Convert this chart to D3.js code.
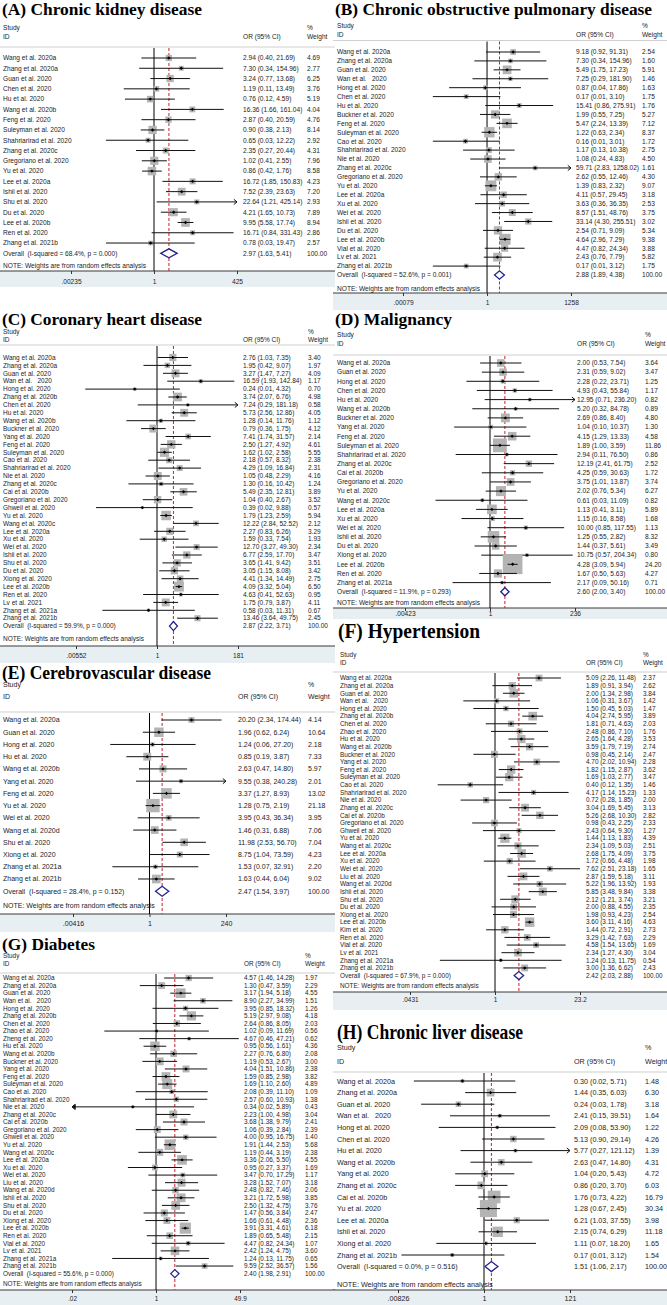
<!DOCTYPE html>
<html><head><meta charset="utf-8">
<script src="https://cdn.jsdelivr.net/npm/d3@7"></script>
<style>body{margin:0;background:#fff}svg{display:block}text{white-space:pre}</style>
</head><body><svg id="c" width="667" height="1305"></svg>
<script>
// ---------- DATA: [study, OR, lower, upper, weight] ----------
const ckdRows = [
 ["Wang et al. 2020a",2.94,0.40,21.69,4.69],["Zhang et al. 2020a",7.30,0.34,154.96,2.77],
 ["Guan et al. 2020",3.24,0.77,13.68,6.25],["Chen et al. 2020",1.19,0.11,13.49,3.76],
 ["Hu et al. 2020",0.76,0.12,4.59,5.19],["Wang et al. 2020b",16.36,1.66,161.04,4.04],
 ["Feng et al. 2020",2.87,0.40,20.59,4.76],["Suleyman et al. 2020",0.90,0.38,2.13,8.14],
 ["Shahriarirad et al. 2020",0.65,0.03,12.22,2.92],["Zhang et al. 2020c",2.35,0.27,20.44,4.31],
 ["Gregoriano et al. 2020",1.02,0.41,2.55,7.96],["Yu et al. 2020",0.86,0.42,1.76,8.58],
 ["Lee et al. 2020a",16.72,1.85,150.83,4.23],["Ishii et al. 2020",7.52,2.39,23.63,7.20],
 ["Shu et al. 2020",22.64,1.21,425.14,2.93],["Du et al. 2020",4.21,1.65,10.73,7.89],
 ["Lee et al. 2020b",9.95,5.58,17.74,8.94],["Ren et al. 2020",16.71,0.84,331.43,2.86],
 ["Zhang et al. 2021b",0.78,0.03,19.47,2.57]];
const ckdOverall = [2.97,1.63,5.41,"68.4%","0.000"];
const ckdTicks = [".00235","1","425"];

const copdRows = [
 ["Wang et al. 2020a",9.18,0.92,91.31,2.54],["Zhang et al. 2020a",7.30,0.34,154.96,1.60],
 ["Guan et al. 2020",5.49,1.75,17.23,5.91],["Wan et al.   2020",7.25,0.29,181.90,1.46],
 ["Hong et al. 2020",0.87,0.04,17.86,1.63],["Chen et al. 2020",0.17,0.01,3.10,1.75],
 ["Hu et al. 2020",15.41,0.86,275.91,1.76],["Buckner et al. 2020",1.99,0.55,7.25,5.27],
 ["Feng et al. 2020",5.47,2.24,13.39,7.12],["Suleyman et al. 2020",1.22,0.63,2.34,8.37],
 ["Cao et al. 2020",0.16,0.01,3.01,1.72],["Shahriarirad et al. 2020",1.17,0.13,10.38,2.75],
 ["Nie et al. 2020",1.08,0.24,4.83,4.50],["Zhang et al. 2020c",59.71,2.83,1258.02,1.61],
 ["Gregoriano et al. 2020",2.62,0.55,12.46,4.30],["Yu et al. 2020",1.39,0.83,2.32,9.07],
 ["Lee et al. 2020a",4.11,0.57,29.45,3.18],["Xu et al. 2020",3.63,0.36,36.35,2.53],
 ["Wei et al. 2020",8.57,1.51,48.76,3.75],["Ishii et al. 2020",33.14,4.30,255.51,3.02],
 ["Du et al. 2020",2.54,0.71,9.09,5.34],["Lee et al. 2020b",4.64,2.96,7.29,9.38],
 ["Vial et al. 2020",4.47,0.82,24.34,3.88],["Lv et al. 2021",2.43,0.76,7.79,5.82],
 ["Zhang et al. 2021b",0.17,0.01,3.12,1.75]];
const copdOverall = [2.88,1.89,4.38,"52.6%","0.001"];
const copdTicks = [".00079","1","1258"];

const chdRows = [
 ["Wang et al. 2020a",2.76,1.03,7.35,3.40],["Zhang et al. 2020a",1.95,0.42,9.07,1.97],
 ["Guan et al. 2020",3.27,1.47,7.27,4.09],["Wan et al.   2020",16.59,1.93,142.84,1.17],
 ["Hong et al. 2020",0.24,0.01,4.32,0.70],["Zhang et al. 2020b",3.74,2.07,6.76,4.98],
 ["Chen et al. 2020",7.24,0.29,181.18,0.58],["Hu et al. 2020",5.73,2.56,12.86,4.05],
 ["Wang et al. 2020b",1.28,0.14,11.76,1.12],["Buckner et al. 2020",0.79,0.36,1.75,4.12],
 ["Yang et al. 2020",7.41,1.74,31.57,2.14],["Feng et al. 2020",2.50,1.27,4.92,4.61],
 ["Suleyman et al. 2020",1.62,1.02,2.58,5.55],["Cao et al. 2020",2.18,0.57,8.32,2.38],
 ["Shahriarirad et al. 2020",4.29,1.09,16.84,2.31],["Nie et al. 2020",1.05,0.48,2.29,4.16],
 ["Zhang et al. 2020c",1.30,0.16,10.42,1.24],["Cai et al. 2020b",5.49,2.35,12.81,3.89],
 ["Gregoriano et al. 2020",1.04,0.40,2.67,3.52],["Ghweil et al. 2020",0.39,0.02,9.88,0.57],
 ["Yu et al. 2020",1.79,1.23,2.59,5.94],["Wang et al. 2020c",12.22,2.84,52.52,2.12],
 ["Lee et al. 2020a",2.27,0.83,6.26,3.29],["Xu et al. 2020",1.59,0.33,7.54,1.93],
 ["Wei et al. 2020",12.70,3.27,49.30,2.34],["Ishii et al. 2020",6.77,2.59,17.70,3.47],
 ["Shu et al. 2020",3.65,1.41,9.42,3.51],["Du et al. 2020",3.05,1.15,8.08,3.42],
 ["Xiong et al. 2020",4.41,1.34,14.49,2.75],["Lee et al. 2020b",4.09,3.32,5.04,6.50],
 ["Ren et al. 2020",4.63,0.41,52.63,0.95],["Lv et al. 2021",1.75,0.79,3.87,4.11],
 ["Zhang et al. 2021a",0.58,0.03,11.31,0.67],["Zhang et al. 2021b",13.46,3.64,49.75,2.45]];
const chdOverall = [2.87,2.22,3.71,"59.9%","0.000"];
const chdTicks = [".00552","1","181"];

const malRows = [
 ["Wang et al. 2020a",2.00,0.53,7.54,3.64],["Guan et al. 2020",2.31,0.59,9.02,3.47],
 ["Hong et al. 2020",2.28,0.22,23.71,1.25],["Chen et al. 2020",4.93,0.43,55.84,1.17],
 ["Hu et al. 2020",12.95,0.71,236.20,0.82],["Wang et al. 2020b",5.20,0.32,84.78,0.89],
 ["Buckner et al. 2020",2.69,0.86,8.40,4.80],["Yang et al. 2020",1.04,0.10,10.37,1.30],
 ["Feng et al. 2020",4.15,1.29,13.33,4.58],["Suleyman et al. 2020",1.89,1.00,3.59,11.86],
 ["Shahriarirad et al. 2020",2.94,0.11,76.50,0.86],["Zhang et al. 2020c",12.19,2.41,61.75,2.52],
 ["Cai et al. 2020b",4.25,0.59,30.63,1.72],["Gregoriano et al. 2020",3.75,1.01,13.87,3.74],
 ["Yu et al. 2020",2.02,0.76,5.34,6.27],["Wang et al. 2020c",0.61,0.03,11.09,0.82],
 ["Lee et al. 2020a",1.13,0.41,3.11,5.89],["Xu et al. 2020",1.15,0.16,8.58,1.68],
 ["Wei et al. 2020",10.00,0.85,117.55,1.13],["Ishii et al. 2020",1.25,0.55,2.82,8.32],
 ["Du et al. 2020",1.44,0.37,5.61,3.49],["Xiong et al. 2020",10.75,0.57,204.34,0.80],
 ["Lee et al. 2020b",4.28,3.09,5.94,24.20],["Ren et al. 2020",1.67,0.50,5.63,4.27],
 ["Zhang et al. 2021a",2.17,0.09,50.16,0.71]];
const malOverall = [2.60,2.00,3.40,"11.9%","0.293"];
const malTicks = [".00423","1","236"];

const cvdRows = [
 ["Wang et al. 2020a",20.20,2.34,174.44,4.14],["Guan et al. 2020",1.96,0.62,6.24,10.64],
 ["Hong et al. 2020",1.24,0.06,27.20,2.18],["Hu et al. 2020",0.85,0.19,3.87,7.33],
 ["Wang et al. 2020b",2.63,0.47,14.80,5.97],["Yang et al. 2020",9.55,0.38,240.28,2.01],
 ["Feng et al. 2020",3.37,1.27,8.93,13.02],["Yu et al. 2020",1.28,0.75,2.19,21.18],
 ["Wei et al. 2020",3.95,0.43,36.34,3.95],["Wang et al. 2020d",1.46,0.31,6.88,7.06],
 ["Shu et al. 2020",11.98,2.53,56.70,7.04],["Xiong et al. 2020",8.75,1.04,73.59,4.23],
 ["Zhang et al. 2021a",1.53,0.07,32.91,2.20],["Zhang et al. 2021b",1.63,0.44,6.04,9.02]];
const cvdOverall = [2.47,1.54,3.97,"28.4%","0.152"];
const cvdTicks = [".00416","1","240"];

const htnRows = [
 ["Wang et al. 2020a",5.09,2.26,11.48,2.37],["Zhang et al. 2020a",1.89,0.91,3.94,2.62],
 ["Guan et al. 2020",2.00,1.34,2.98,3.84],["Wan et al.   2020",1.06,0.31,3.67,1.42],
 ["Hong et al. 2020",1.50,0.45,5.03,1.47],["Zhang et al. 2020b",4.04,2.74,5.95,3.89],
 ["Chen et al. 2020",1.81,0.71,4.63,2.03],["Zhao et al. 2020",2.48,0.86,7.10,1.76],
 ["Hu et al. 2020",2.65,1.64,4.28,3.53],["Wang et al. 2020b",3.59,1.79,7.19,2.74],
 ["Buckner et al. 2020",0.98,0.45,2.14,2.47],["Yang et al. 2020",4.70,2.02,10.94,2.28],
 ["Feng et al. 2020",1.82,1.15,2.87,3.62],["Suleyman et al. 2020",1.69,1.03,2.77,3.47],
 ["Cao et al. 2020",0.40,0.12,1.35,1.46],["Shahriarirad et al. 2020",4.17,1.14,15.23,1.33],
 ["Nie et al. 2020",0.72,0.28,1.85,2.00],["Zhang et al. 2020c",3.04,1.69,5.45,3.13],
 ["Cai et al. 2020b",5.26,2.68,10.30,2.82],["Gregoriano et al. 2020",0.98,0.43,2.25,2.33],
 ["Ghweil et al. 2020",2.43,0.64,9.30,1.27],["Yu et al. 2020",1.44,1.13,1.83,4.39],
 ["Wang et al. 2020c",2.34,1.09,5.03,2.51],["Lee et al. 2020a",2.68,1.75,4.09,3.75],
 ["Xu et al. 2020",1.72,0.66,4.48,1.98],["Wei et al. 2020",7.62,2.51,23.18,1.65],
 ["Liu et al. 2020",2.87,1.59,5.18,3.11],["Wang et al. 2020d",5.22,1.96,13.92,1.93],
 ["Ishii et al. 2020",5.85,3.48,9.84,3.38],["Shu et al. 2020",2.12,1.21,3.74,3.21],
 ["Du et al. 2020",2.00,0.88,4.55,2.35],["Xiong et al. 2020",1.98,0.93,4.23,2.54],
 ["Lee et al. 2020b",3.60,3.11,4.16,4.63],["Kim et al. 2020",1.44,0.72,2.91,2.73],
 ["Ren et al. 2020",3.29,1.42,7.63,2.29],["Vial et al. 2020",4.58,1.54,13.65,1.69],
 ["Lv et al. 2021",2.34,1.27,4.30,3.04],["Zhang et al. 2021a",1.24,0.13,11.75,0.54],
 ["Zhang et al. 2021b",3.00,1.36,6.62,2.43]];
const htnOverall = [2.42,2.03,2.88,"67.9%","0.000"];
const htnTicks = [".0431","1","23.2"];

const dmRows = [
 ["Wang et al. 2020a",4.57,1.46,14.28,1.97],["Zhang et al. 2020a",1.30,0.47,3.59,2.29],
 ["Guan et al. 2020",3.17,1.94,5.18,4.55],["Wan et al.   2020",8.90,2.27,34.99,1.51],
 ["Hong et al. 2020",3.95,0.85,18.32,1.26],["Zhang et al. 2020b",5.19,2.97,9.08,4.18],
 ["Chen et al. 2020",2.64,0.86,8.05,2.03],["Zhao et al. 2020",1.02,0.09,11.69,0.56],
 ["Zheng et al. 2020",4.67,0.46,47.21,0.62],["Hu et al. 2020",0.95,0.56,1.61,4.36],
 ["Wang et al. 2020b",2.27,0.76,6.80,2.08],["Buckner et al. 2020",1.19,0.53,2.67,3.00],
 ["Yang et al. 2020",4.04,1.51,10.86,2.38],["Feng et al. 2020",1.59,0.85,2.98,3.82],
 ["Suleyman et al. 2020",1.69,1.10,2.60,4.89],["Cao et al. 2020",2.08,0.39,11.10,1.09],
 ["Shahriarirad et al. 2020",2.57,0.60,10.93,1.38],["Nie et al. 2020",0.34,0.02,5.89,0.43],
 ["Zhang et al. 2020c",2.23,1.00,4.98,3.04],["Cai et al. 2020b",3.68,1.38,9.79,2.41],
 ["Gregoriano et al. 2020",1.06,0.39,2.84,2.39],["Ghweil et al. 2020",4.00,0.95,16.75,1.40],
 ["Yu et al. 2020",1.91,1.44,2.53,5.68],["Wang et al. 2020c",1.19,0.44,3.19,2.38],
 ["Lee et al. 2020a",3.36,2.06,5.50,4.55],["Xu et al. 2020",0.95,0.27,3.37,1.69],
 ["Wei et al. 2020",3.47,0.70,17.29,1.17],["Liu et al. 2020",3.28,1.52,7.07,3.18],
 ["Wang et al. 2020d",2.48,0.82,7.46,2.06],["Ishii et al. 2020",3.21,1.72,5.98,3.85],
 ["Shu et al. 2020",2.50,1.32,4.75,3.76],["Du et al. 2020",1.47,0.56,3.84,2.47],
 ["Xiong et al. 2020",1.66,0.61,4.48,2.36],["Lee et al. 2020b",3.91,3.31,4.61,6.18],
 ["Ren et al. 2020",1.89,0.65,5.48,2.15],["Vial et al. 2020",4.47,0.82,24.34,1.07],
 ["Lv et al. 2021",2.42,1.24,4.75,3.60],["Zhang et al. 2021a",1.24,0.13,11.75,0.65],
 ["Zhang et al. 2021b",9.59,2.52,36.57,1.56]];
const dmOverall = [2.40,1.98,2.91,"55.6%","0.000"];
const dmTicks = [".02","1","49.9"];

const cldRows = [
 ["Wang et al. 2020a",0.30,0.02,5.71,1.48],["Zhang et al. 2020a",1.44,0.35,6.03,6.30],
 ["Guan et al. 2020",0.24,0.03,1.78,3.18],["Wan et al.   2020",2.41,0.15,39.51,1.64],
 ["Hong et al. 2020",2.09,0.08,53.90,1.22],["Chen et al. 2020",5.13,0.90,29.14,4.26],
 ["Hu et al. 2020",5.77,0.27,121.12,1.39],["Wang et al. 2020b",2.63,0.47,14.80,4.31],
 ["Yang et al. 2020",1.04,0.20,5.43,4.72],["Zhang et al. 2020c",0.86,0.20,3.70,6.03],
 ["Cai et al. 2020b",1.76,0.73,4.22,16.79],["Yu et al. 2020",1.28,0.67,2.45,30.34],
 ["Lee et al. 2020a",6.21,1.03,37.55,3.98],["Ishii et al. 2020",2.15,0.74,6.29,11.18],
 ["Xiong et al. 2020",1.11,0.07,18.20,1.65],["Zhang et al. 2021b",0.17,0.01,3.12,1.54]];
const cldOverall = [1.51,1.06,2.17,"0.0%","0.516"];
const cldTicks = [".00826","1","121"];

const titles = ["(A) Chronic kidney disease","(B) Chronic obstructive pulmonary disease",
 "(C) Coronary heart disease","(D) Malignancy","(E) Cerebrovascular disease",
 "(F) Hypertension","(G) Diabetes","(H) Chronic liver disease"];

// ---------- LAYOUT ----------
const layouts = [
 {x0:0,x1:335,tx:2,ty:15,tw:200,tfs:17,hy1:27.5,hy2:37,hl:47,r0:58,dr:10.28,noteY:266,axY:271,bandB:287,tlY:282,nx:3,ox:243,wx:307,fs:6.6,xl:71,xr:237,k:2.9,dh:9},
 {x0:333,x1:667,tx:335,ty:15,tw:317,tfs:17,hy1:26,hy2:34.5,hl:40.5,r0:52,dr:8.92,noteY:289,axY:293,bandB:310,tlY:303,nx:337,ox:576,wx:642,fs:6.6,xl:403,xr:571,k:3.6,dh:8.5},
 {x0:0,x1:335,tx:2,ty:324.5,tw:200,tfs:17,hy1:331.5,hy2:339.5,hl:345,r0:357.5,dr:7.9,noteY:639,axY:646,bandB:663,tlY:656,nx:3,ox:243,wx:308,fs:6.5,xl:76,xr:238,k:3.9,dh:9},
 {x0:333,x1:667,tx:335,ty:325,tw:117,tfs:17,hy1:335,hy2:344,hl:355,r0:363,dr:9.15,noteY:603,axY:608,bandB:619,tlY:614,nx:337,ox:577,wx:645,fs:6.6,xl:405,xr:575,k:4,dh:8},
 {x0:0,x1:335,tx:2,ty:678.5,tw:209,tfs:18,hy1:684.5,hy2:697,hl:712,r0:720,dr:12.23,noteY:906,axY:914,bandB:932,tlY:924,nx:3,ox:238,wx:308,fs:7.0,xl:73,xr:226,k:2.9,dh:10},
 {x0:333,x1:667,tx:338,ty:638,tw:142,tfs:20,hy1:655,hy2:663,hl:672,r0:678,dr:7.63,noteY:986,axY:992,bandB:1010,tlY:1000,nx:340,ox:586,wx:643,fs:6.4,xl:410,xr:580,k:4.4,dh:8},
 {x0:0,x1:335,tx:2,ty:949.5,tw:93,tfs:17.5,hy1:956,hy2:963.5,hl:973,r0:978,dr:7.58,noteY:1284,axY:1290,bandB:1305,tlY:1299,nx:3,ox:244,wx:305,fs:6.4,xl:72,xr:240,k:4.5,dh:8},
 {x0:333,x1:667,tx:337,ty:1039,tw:186,tfs:22,hy1:1047.5,hy2:1061,hl:1072,r0:1081,dr:11.6,noteY:1284,axY:1290,bandB:1305,tlY:1298,nx:337,ox:574,wx:645,fs:7.2,xl:398,xr:570,k:3.1,dh:10}
];

const panels = [
 [ckdRows,ckdOverall,ckdTicks],[copdRows,copdOverall,copdTicks],
 [chdRows,chdOverall,chdTicks],[malRows,malOverall,malTicks],
 [cvdRows,cvdOverall,cvdTicks],[htnRows,htnOverall,htnTicks],
 [dmRows,dmOverall,dmTicks],[cldRows,cldOverall,cldTicks]
];

const svg = d3.select("#c");
const SANS = "'Liberation Sans', Arial, sans-serif";
const SERIF = "'Liberation Serif', 'Times New Roman', serif";
const ink = "#1c1c1c";
const f2 = d3.format(".2f");

panels.forEach(([rows, ov, ticks], pi) => {
  const L = layouts[pi];
  const g = svg.append("g");
  const n = rows.length;
  const tv = ticks.map(Number);
  const x = d3.scaleLog().domain([tv[0], tv[tv.length - 1]]).range([L.xl, L.xr]);
  const y = d3.scaleLinear().domain([0, n]).range([L.r0, L.r0 + n * L.dr]);
  const lo = tv[0], hi = tv[tv.length - 1];

  // axis band
  g.append("rect").attr("x", L.x0).attr("y", L.axY).attr("width", L.x1 - L.x0)
    .attr("height", L.bandB - L.axY).attr("fill", "#e8eff2");
  g.append("line").attr("x1", L.x0).attr("x2", L.x1).attr("y1", L.axY).attr("y2", L.axY)
    .attr("stroke", "#3a3a3a").attr("stroke-width", 1);
  // header separator
  g.append("line").attr("x1", L.x0).attr("x2", L.x1).attr("y1", L.hl).attr("y2", L.hl)
    .attr("stroke", "#cfcfcf").attr("stroke-width", 1);

  // title
  g.append("text").attr("x", L.tx).attr("y", L.ty).text(titles[pi])
    .attr("font-family", SERIF).attr("font-weight", "bold").attr("font-size", L.tfs)
    .attr("fill", "#000").attr("textLength", L.tw).attr("lengthAdjust", "spacingAndGlyphs");

  const txt = (xx, yy, s, anchor) => g.append("text").attr("x", xx).attr("y", yy).attr("dy", "0.35em")
    .text(s).attr("font-family", SANS).attr("font-size", L.fs).attr("fill", ink)
    .attr("text-anchor", anchor || "start");

  txt(L.nx, L.hy1, "Study"); txt(L.nx, L.hy2, "ID");
  txt(L.ox, L.hy2, "OR (95% CI)");
  txt(L.wx, L.hy1, "%"); txt(L.wx, L.hy2, "Weight");

  // null line & overall dashed line
  g.append("line").attr("x1", x(1)).attr("x2", x(1)).attr("y1", L.hl + 1).attr("y2", L.axY)
    .attr("stroke", "#000").attr("stroke-width", 1);
  g.append("line").attr("x1", x(ov[0])).attr("x2", x(ov[0])).attr("y1", L.hl + 1).attr("y2", L.axY)
    .attr("stroke", "#c8202a").attr("stroke-width", 1).attr("stroke-dasharray", "3,2");

  // study rows
  rows.forEach((r, i) => {
    const yy = y(i);
    const s = L.k * Math.sqrt(r[4]);
    g.append("rect").attr("x", x(r[1]) - s / 2).attr("y", yy - s / 2).attr("width", s).attr("height", s)
      .attr("fill", "#b4b4b4");
    const xa = x(Math.max(r[2], lo)), xb = x(Math.min(r[3], hi));
    g.append("line").attr("x1", xa).attr("x2", xb).attr("y1", yy).attr("y2", yy)
      .attr("stroke", "#111").attr("stroke-width", 1);
    if (r[3] >= hi) g.append("path").attr("d", `M${xb - 3.2},${yy - 2.6}L${xb},${yy}L${xb - 3.2},${yy + 2.6}`)
      .attr("fill", "none").attr("stroke", "#111").attr("stroke-width", 1);
    if (r[2] <= lo) g.append("path").attr("d", `M${xa + 3.2},${yy - 2.6}L${xa},${yy}L${xa + 3.2},${yy + 2.6}Z`)
      .attr("fill", "#111").attr("stroke", "#111").attr("stroke-width", 1);
    const cx = x(r[1]), d = 1.7;
    g.append("path").attr("d", `M${cx - d},${yy}L${cx},${yy - d}L${cx + d},${yy}L${cx},${yy + d}Z`).attr("fill", "#000");
    txt(L.nx, yy, r[0]);
    txt(L.ox, yy, `${f2(r[1])} (${f2(r[2])}, ${f2(r[3])})`);
    txt(L.wx, yy, f2(r[4]));
  });

  // overall
  const yo = y(n), h = L.dh / 2;
  g.append("path").attr("d", `M${x(ov[1])},${yo}L${x(ov[0])},${yo - h}L${x(ov[2])},${yo}L${x(ov[0])},${yo + h}Z`)
    .attr("fill", "#fff").attr("stroke", "#23238e").attr("stroke-width", 1.3);
  txt(L.nx, yo, `Overall  (I-squared = ${ov[3]}, p = ${ov[4]})`);
  txt(L.ox, yo, `${f2(ov[0])} (${f2(ov[1])}, ${f2(ov[2])})`);
  txt(L.wx, yo, "100.00");
  txt(L.nx, L.noteY, "NOTE: Weights are from random effects analysis");

  // x axis
  const ax = g.append("g").attr("transform", `translate(0,${L.axY})`)
    .call(d3.axisBottom(x).tickValues(tv).tickFormat((v, i) => ticks[i]).tickSize(3));
  ax.select(".domain").remove();
  ax.selectAll(".tick line").attr("stroke", "#333");
  ax.selectAll(".tick text").attr("y", L.tlY - L.axY).attr("dy", "0.35em")
    .attr("font-family", SANS).attr("font-size", L.fs).attr("fill", ink);
});
</script></body></html>
